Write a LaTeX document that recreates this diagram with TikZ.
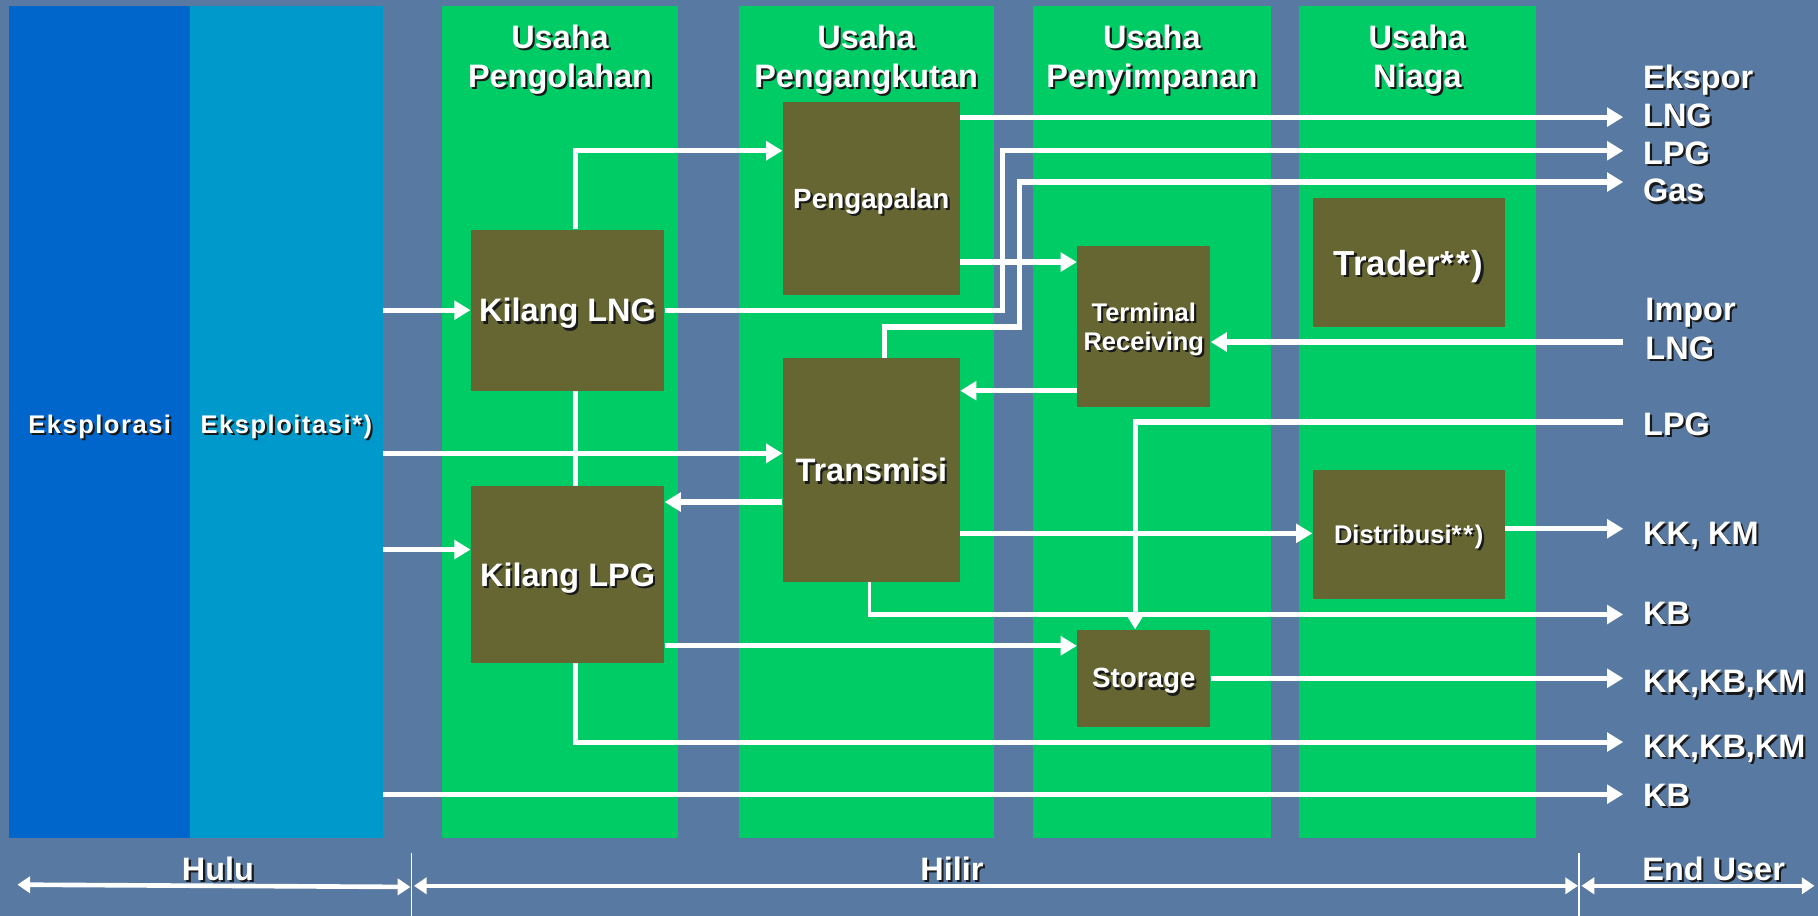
\documentclass[tikz,border=0pt]{standalone}
\usepackage{fontspec}
\setmainfont{Liberation Sans}
\usetikzlibrary{arrows.meta}
\definecolor{bgc}{RGB}{88,121,161}
\definecolor{eksplc}{RGB}{0,102,204}
\definecolor{ekspc}{RGB}{0,153,204}
\definecolor{lanec}{RGB}{0,204,102}
\definecolor{olivec}{RGB}{102,102,51}
\definecolor{shadec}{RGB}{25,25,25}
\newcommand{\sh}[1]{\leavevmode\rlap{\kern1.8pt\raisebox{-1.8pt}{\textcolor{shadec}{#1}}}#1}
\newcommand{\fs}[1]{\fontsize{#1}{#1}\selectfont}
\begin{document}
\begin{tikzpicture}[x=1pt,y=-1pt,
  lane/.style={fill=lanec, draw=none, inner sep=0pt, text=white, font=\bfseries\fs{22}\addfontfeatures{LetterSpace=6}, text depth=0pt},
  box/.style={fill=olivec, draw=none, inner sep=0pt, text=white, align=center, text depth=0pt},
  head/.style={text=white, font=\bfseries\fontsize{28}{33}\selectfont, align=center, inner sep=0pt, text depth=0pt},
  lbl/.style={text=white, font=\bfseries\fontsize{28}{32.7}\selectfont, align=left, inner sep=0pt, anchor=west, text depth=0pt},
  flow/.style={draw=white, line width=4.4pt, -{Triangle[length=14pt,width=16pt]}},
  link/.style={draw=white, line width=4.4pt},
  thinlink/.style={draw=white, line width=2pt},
  span/.style={draw=white, line width=4pt, {Triangle[length=11pt,width=14pt]}-{Triangle[length=11pt,width=14pt]}},
  tick/.style={draw=white, line width=1.2pt}
]
\useasboundingbox (0,0) rectangle (1568,790);
\fill[bgc] (0,0) rectangle (1568,790);

% lanes
\node[lane, fill=eksplc, minimum width=156pt, minimum height=718pt] (eksplor) at (86,364) {};
\node[lane, fill=ekspc, minimum width=166pt, minimum height=718pt] (eksploit) at (247,364) {};
\node[lane, fill=none, anchor=center] (teksplor) at (86,366) {\sh{Eksplorasi}};
\node[lane, fill=none, anchor=center] (teksploit) at (247,366) {\sh{Eksploitasi*)}};
\node[lane, minimum width=204pt, minimum height=718pt] (c1) at (483,364) {};
\node[lane, minimum width=220pt, minimum height=718pt] (c2) at (747,364) {};
\node[lane, minimum width=205pt, minimum height=718pt] (c3) at (993.5,364) {};
\node[lane, minimum width=205pt, minimum height=718pt] (c4) at (1222.5,364) {};

\node[head] (h1) at (c1.north |- 0,48.4) {\sh{Usaha}\\\sh{Pengolahan}};
\node[head] (h2) at (c2.north |- 0,48.4) {\sh{Usaha}\\\sh{Pengangkutan}};
\node[head] (h3) at (c3.north |- 0,48.4) {\sh{Usaha}\\\sh{Penyimpanan}};
\node[head] (h4) at (c4.north |- 0,48.4) {\sh{Usaha}\\\sh{Niaga}};

% boxes
\node[box, minimum width=153pt, minimum height=166pt, font=\bfseries\fs{24}] (peng) at (751.5,171) {\sh{Pengapalan}};
\node[box, minimum width=167pt, minimum height=139pt, font=\bfseries\fs{28}] (kLNG) at (489.5,267.5) {\sh{Kilang LNG}};
\node[box, minimum width=167pt, minimum height=153pt, font=\bfseries\fs{28}] (kLPG) at (489.5,495.5) {\sh{Kilang LPG}};
\node[box, minimum width=153pt, minimum height=193pt, font=\bfseries\fs{28}] (trans) at (751.5,405.5) {\sh{Transmisi}};
\node[box, minimum width=115pt, minimum height=139pt, font=\bfseries\fontsize{22}{25}\selectfont] (term) at (986.5,281.5) {\sh{Terminal}\\\sh{Receiving}};
\node[box, minimum width=115pt, minimum height=84pt, font=\bfseries\fs{24}] (stor) at (986.5,585) {\sh{Storage}};
\node[box, minimum width=166pt, minimum height=111pt, font=\bfseries\fs{30}] (trad) at (1215,226.5) {\sh{Trader*\kern2pt*\kern2pt)}};
\node[box, minimum width=166pt, minimum height=112pt, font=\bfseries\fs{22}] (dist) at (1215,461) {\sh{Distribusi*\kern1.5pt*\kern1.5pt)}};

% right labels
\node[lbl] (lEks) at (1417,115) {\sh{Ekspor}\\\sh{LNG}\\\sh{LPG}\\\sh{Gas}};
\node[lbl, font=\bfseries\fontsize{28}{33}\selectfont] (lImp) at (1419,283.5) {\sh{Impor}\\\sh{LNG}};
\node[lbl] (lLPG) at (1417,366) {\sh{LPG}};
\node[lbl] (lKKKM) at (1417,460) {\sh{KK, KM}};
\node[lbl] (lKB1) at (1417,529) {\sh{KB}};
\node[lbl] (lAll1) at (1417,588) {\sh{KK,KB,KM}};
\node[lbl] (lAll2) at (1417,644) {\sh{KK,KB,KM}};
\node[lbl] (lKB2) at (1417,686) {\sh{KB}};

% arrow ends at right
\coordinate (xLNG) at (1400,101);
\coordinate (xLPG) at (1400,130);
\coordinate (xGas) at (1400,157);
\coordinate (xImp) at (1400,295);
\coordinate (xLPGin) at (1400,364);
\coordinate (xKKKM) at (1400,456);
\coordinate (xKB1) at (1400,530);
\coordinate (xAll1) at (1400,585);
\coordinate (xAll2) at (1400,640);
\coordinate (xKB2) at (1400,685);

% connectors
\draw[flow] (eksploit.east |- kLNG.west) -- (kLNG.west);
\draw[flow] (eksploit.east |- 0,391) -- (trans.west |- 0,391);
\draw[flow] (eksploit.east |- 0,474) -- (kLPG.west |- 0,474);
\draw[flow] (eksploit.east |- xKB2) -- (xKB2);

\draw[link] (kLNG.south -| 496,0) -- (kLPG.north -| 496,0);
\draw[flow] (kLNG.north -| 496,0) |- (peng.west |- 0,130);
\draw[flow] (kLNG.east) -| (865,130) -- (xLPG);
\draw[flow] (peng.east |- xLNG) -- (xLNG);
\draw[flow] (peng.east |- 0,226) -- (term.west |- 0,226);
\draw[flow] (trans.north -| 763,0) |- (879,282) |- (xGas);
\draw[flow] (term.west |- 0,337) -- (trans.east |- 0,337);
\draw[flow] (xImp) -- (term.east |- xImp);
\draw[flow] (trans.west |- 0,433) -- (kLPG.east |- 0,433);
\draw[flow] (trans.east |- 0,460) -- (dist.west |- 0,460);
\draw[flow] (dist.east |- xKKKM) -- (xKKKM);
\draw[thinlink] (trans.south -| 750,0) -- (750,531);
\draw[flow] (749,530) -- (xKB1);
\draw[flow] (xLPGin) -| (stor.north -| 979,0);
\draw[flow] (kLPG.east |- 0,557) -- (stor.west |- 0,557);
\draw[flow] (stor.east) -- (xAll1);
\draw[flow] (kLPG.south -| 496,0) |- (xAll2);

% bottom spans
\coordinate (t1) at (355,736);
\coordinate (t2) at (1362,736);
\draw[tick] (t1) -- (355,790);
\draw[tick] (t2) -- (1362,790);
\draw[span] (15,763) -- (354,765);
\draw[span] (357,764) -- (1361,764);
\draw[span] (1364,764) -- (1565,764);
\node[lbl, anchor=center] (hulu) at (188,749) {\sh{Hulu}};
\node[lbl, anchor=center] (hilir) at (821,749) {\sh{Hilir}};
\node[lbl, anchor=center] (enduser) at (1478,749) {\sh{End User}};
\end{tikzpicture}
\end{document}
